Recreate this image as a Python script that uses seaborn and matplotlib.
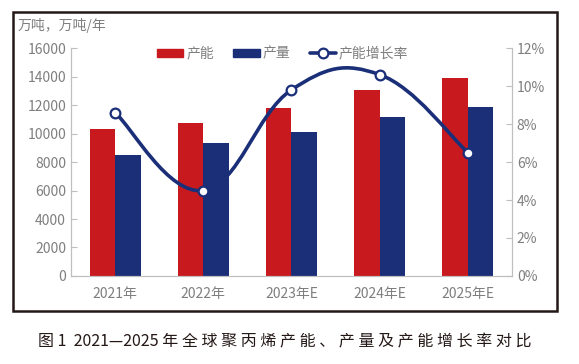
import pandas as pd
import matplotlib.pyplot as plt
import seaborn as sns
from matplotlib.path import Path
from matplotlib.patches import PathPatch, Patch, Rectangle
from matplotlib.lines import Line2D
from matplotlib.ticker import FuncFormatter

# Data
years = ['2021年', '2022年', '2023年E', '2024年E', '2025年E']
capacity = [10300, 10750, 11800, 13050, 13900]
output = [8500, 9330, 10100, 11150, 11860]
growth = [8.6, 4.5, 9.8, 10.6, 6.5]

red = '#C8191F'
navy = '#1A2F78'
grey = '#7F7F7F'

sns.set_style("white")
plt.rcParams['font.family'] = ['Noto Sans CJK SC', 'DejaVu Sans']

df = pd.DataFrame({
    'year': years * 2,
    'value': capacity + output,
    'kind': ['产能'] * 5 + ['产量'] * 5,
})

fig = plt.figure(figsize=(5.79, 3.64), dpi=100)
ax = fig.add_axes([0.1226, 0.2418, 0.7617, 0.6262])

sns.barplot(data=df, x='year', y='value', hue='kind', palette=[red, navy],
            width=0.58, saturation=1, linewidth=0, ax=ax, legend=False)
ax.set_xlim(-0.5, 4.5)
ax.set_ylim(0, 16000)
ax.set_yticks(range(0, 16001, 2000))
ax.set_xlabel('')
ax.set_ylabel('')

ax2 = ax.twinx()
ax2.set_ylim(0, 12)
ax2.set_yticks(range(0, 13, 2))
ax2.yaxis.set_major_formatter(FuncFormatter(lambda v, p: f'{int(v)}%'))

# smoothed line (Bezier through the data points)
pts = list(zip(range(len(growth)), growth))
k = 1 / 5
verts = [pts[0]]
codes = [Path.MOVETO]
for i in range(len(pts) - 1):
    p0 = pts[max(i - 1, 0)]
    p1 = pts[i]
    p2 = pts[i + 1]
    p3 = pts[min(i + 2, len(pts) - 1)]
    c1 = (p1[0] + (p2[0] - p0[0]) * k, p1[1] + (p2[1] - p0[1]) * k)
    c2 = (p2[0] - (p3[0] - p1[0]) * k, p2[1] - (p3[1] - p1[1]) * k)
    verts += [c1, c2, p2]
    codes += [Path.CURVE4] * 3
ax2.add_patch(PathPatch(Path(verts, codes), fill=False, edgecolor=navy, lw=2.6, zorder=3))
ax2.plot(range(len(growth)), growth, ls='none', marker='o', ms=7, mfc='white',
         mec=navy, mew=1.6, zorder=4)

for a in (ax, ax2):
    for s in a.spines.values():
        s.set_color('#BFBFBF')
    a.spines['top'].set_visible(False)
    a.tick_params(direction='in', colors='#BFBFBF', labelcolor=grey, labelsize=10, length=4)
ax.tick_params(axis='x', pad=8)
ax.set_xticks([i + 0.5 for i in range(4)], minor=True)
ax.tick_params(axis='x', which='major', length=0)
ax.tick_params(axis='x', which='minor', direction='in', length=4, color='#BFBFBF')

handles = [Patch(color=red), Patch(color=navy),
           Line2D([], [], color=navy, lw=2.6, marker='o', ms=7, mfc='white', mec=navy, mew=1.6)]
ax2.legend(handles, ['产能', '产量', '产能增长率'], loc='upper center', bbox_to_anchor=(0.48, 1.06),
           ncol=3, frameon=False, fontsize=10, labelcolor=grey, handlelength=1.9,
           handleheight=0.6, handletextpad=0.2, columnspacing=1.4)

fig.text(0.031, 0.93, '万吨，万吨/年', fontsize=10, color=grey, va='center')
fig.patches.append(Rectangle((0.0225, 0.146), 0.939, 0.822, transform=fig.transFigure,
                             fill=False, edgecolor='#231815', lw=1.8))
caption = '图 1  2021—2025 年 ' + ' '.join('全球聚丙烯产能、产量及产能增长率对比')
fig.text(0.492, 0.06, caption, fontsize=11.5, color='#231815', ha='center', va='center')

plt.savefig('out.png', dpi=100)
